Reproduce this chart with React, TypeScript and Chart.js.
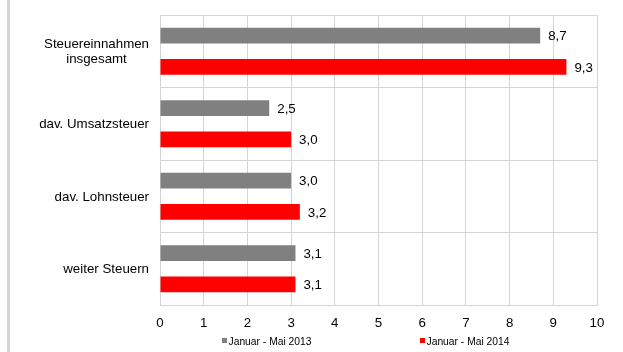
import React, { useEffect, useRef } from "react";
import { Chart, registerables } from "chart.js";

Chart.register(...registerables);

const categories: string[][] = [
  ["Steuereinnahmen", "insgesamt"],
  ["dav. Umsatzsteuer"],
  ["dav. Lohnsteuer"],
  ["weiter Steuern"],
];
const series2013: number[] = [8.7, 2.5, 3.0, 3.1];
const series2014: number[] = [9.3, 3.0, 3.2, 3.1];
const seriesLabels: string[] = ["Januar - Mai 2013", "Januar - Mai 2014"];
const xTicks: number[] = [0, 1, 2, 3, 4, 5, 6, 7, 8, 9, 10];

const FONT = '"Liberation Sans", Arial, sans-serif';
const GRID = "#d4d4d4";
const GRAY = "#808080";
const RED = "#ff0000";

const valueLabels = {
  id: "valueLabels",
  afterDatasetsDraw(chart: any) {
    const ctx = chart.ctx;
    ctx.save();
    ctx.font = `13.3px ${FONT}`;
    ctx.fillStyle = "#000";
    ctx.textAlign = "left";
    ctx.textBaseline = "middle";
    chart.data.datasets.forEach((ds: any, di: number) => {
      const meta = chart.getDatasetMeta(di);
      meta.data.forEach((el: any, i: number) => {
        const v = ds.data[i] as number;
        ctx.fillText(v.toFixed(1).replace(".", ","), el.x + 8, el.y + 1);
      });
    });
    ctx.restore();
  },
};

const yLabels = {
  id: "yLabels",
  afterDraw(chart: any) {
    const ctx = chart.ctx;
    const ys = chart.scales.y;
    ctx.save();
    ctx.font = `13.3px ${FONT}`;
    ctx.fillStyle = "#000";
    ctx.textAlign = "center";
    ctx.textBaseline = "middle";
    const right = 149;
    const lh = 15;
    categories.forEach((lines, i) => {
      const cy = ys.getPixelForValue(i);
      const w = Math.max(...lines.map((l) => ctx.measureText(l).width));
      const cx = right - w / 2;
      const y0 = cy - ((lines.length - 1) * lh) / 2;
      lines.forEach((l, j) => ctx.fillText(l, cx, y0 + j * lh + 1));
    });
    ctx.restore();
  },
};

const customLegend = {
  id: "customLegend",
  afterDraw(chart: any) {
    const ctx = chart.ctx;
    ctx.save();
    ctx.font = `10.3px ${FONT}`;
    ctx.textBaseline = "middle";
    ctx.textAlign = "left";
    const items = [
      { x: 222, color: GRAY, text: seriesLabels[0] },
      { x: 420, color: RED, text: seriesLabels[1] },
    ];
    items.forEach((it) => {
      ctx.fillStyle = it.color;
      ctx.fillRect(it.x, 338, 5, 5);
      ctx.fillStyle = "#000";
      ctx.fillText(it.text, it.x + 6.5, 342.5);
    });
    ctx.restore();
  },
};

export default function App() {
  const ref = useRef<HTMLCanvasElement | null>(null);

  useEffect(() => {
    if (!ref.current) return;
    const chart = new Chart(ref.current, {
      type: "bar",
      data: {
        labels: categories.map((c) => c.join(" ")),
        datasets: [
          {
            label: seriesLabels[0],
            data: series2013,
            backgroundColor: GRAY,
            categoryPercentage: 0.866,
            barPercentage: 0.5,
          },
          {
            label: seriesLabels[1],
            data: series2014,
            backgroundColor: RED,
            categoryPercentage: 0.866,
            barPercentage: 0.5,
          },
        ],
      },
      options: {
        indexAxis: "y",
        responsive: false,
        animation: false,
        layout: { padding: { top: 15, right: 26, bottom: 22, left: 0 } },
        plugins: {
          legend: { display: false },
          tooltip: { enabled: false },
          title: { display: false },
        },
        scales: {
          x: {
            min: 0,
            max: 10,
            afterBuildTicks(scale: any) {
              scale.ticks = xTicks.map((v) => ({ value: v }));
            },
            afterFit(scale: any) {
              scale.height = 25;
            },
            ticks: {
              stepSize: 1,
              padding: 10,
              color: "#000",
              font: { family: FONT, size: 13.3 },
              maxRotation: 0,
            },
            grid: { color: GRID, drawTicks: false },
            border: { color: GRID },
          },
          y: {
            afterFit(scale: any) {
              scale.width = 160;
            },
            ticks: { display: false },
            grid: { color: GRID, drawTicks: false, offset: true },
            border: { color: GRID },
          },
        },
      },
      plugins: [valueLabels, yLabels, customLegend],
    } as any);
    return () => chart.destroy();
  }, []);

  return (
    <div
      style={{
        position: "fixed",
        left: 0,
        top: 0,
        width: 623,
        height: 352,
        background: "#fff",
      }}
    >
      <div
        style={{
          position: "absolute",
          left: 7,
          top: 0,
          width: 3,
          height: 352,
          background: "#d4d4d4",
        }}
      />
      <canvas
        ref={ref}
        width={623}
        height={352}
        style={{ position: "absolute", left: 0, top: 0, width: 623, height: 352 }}
      />
    </div>
  );
}
